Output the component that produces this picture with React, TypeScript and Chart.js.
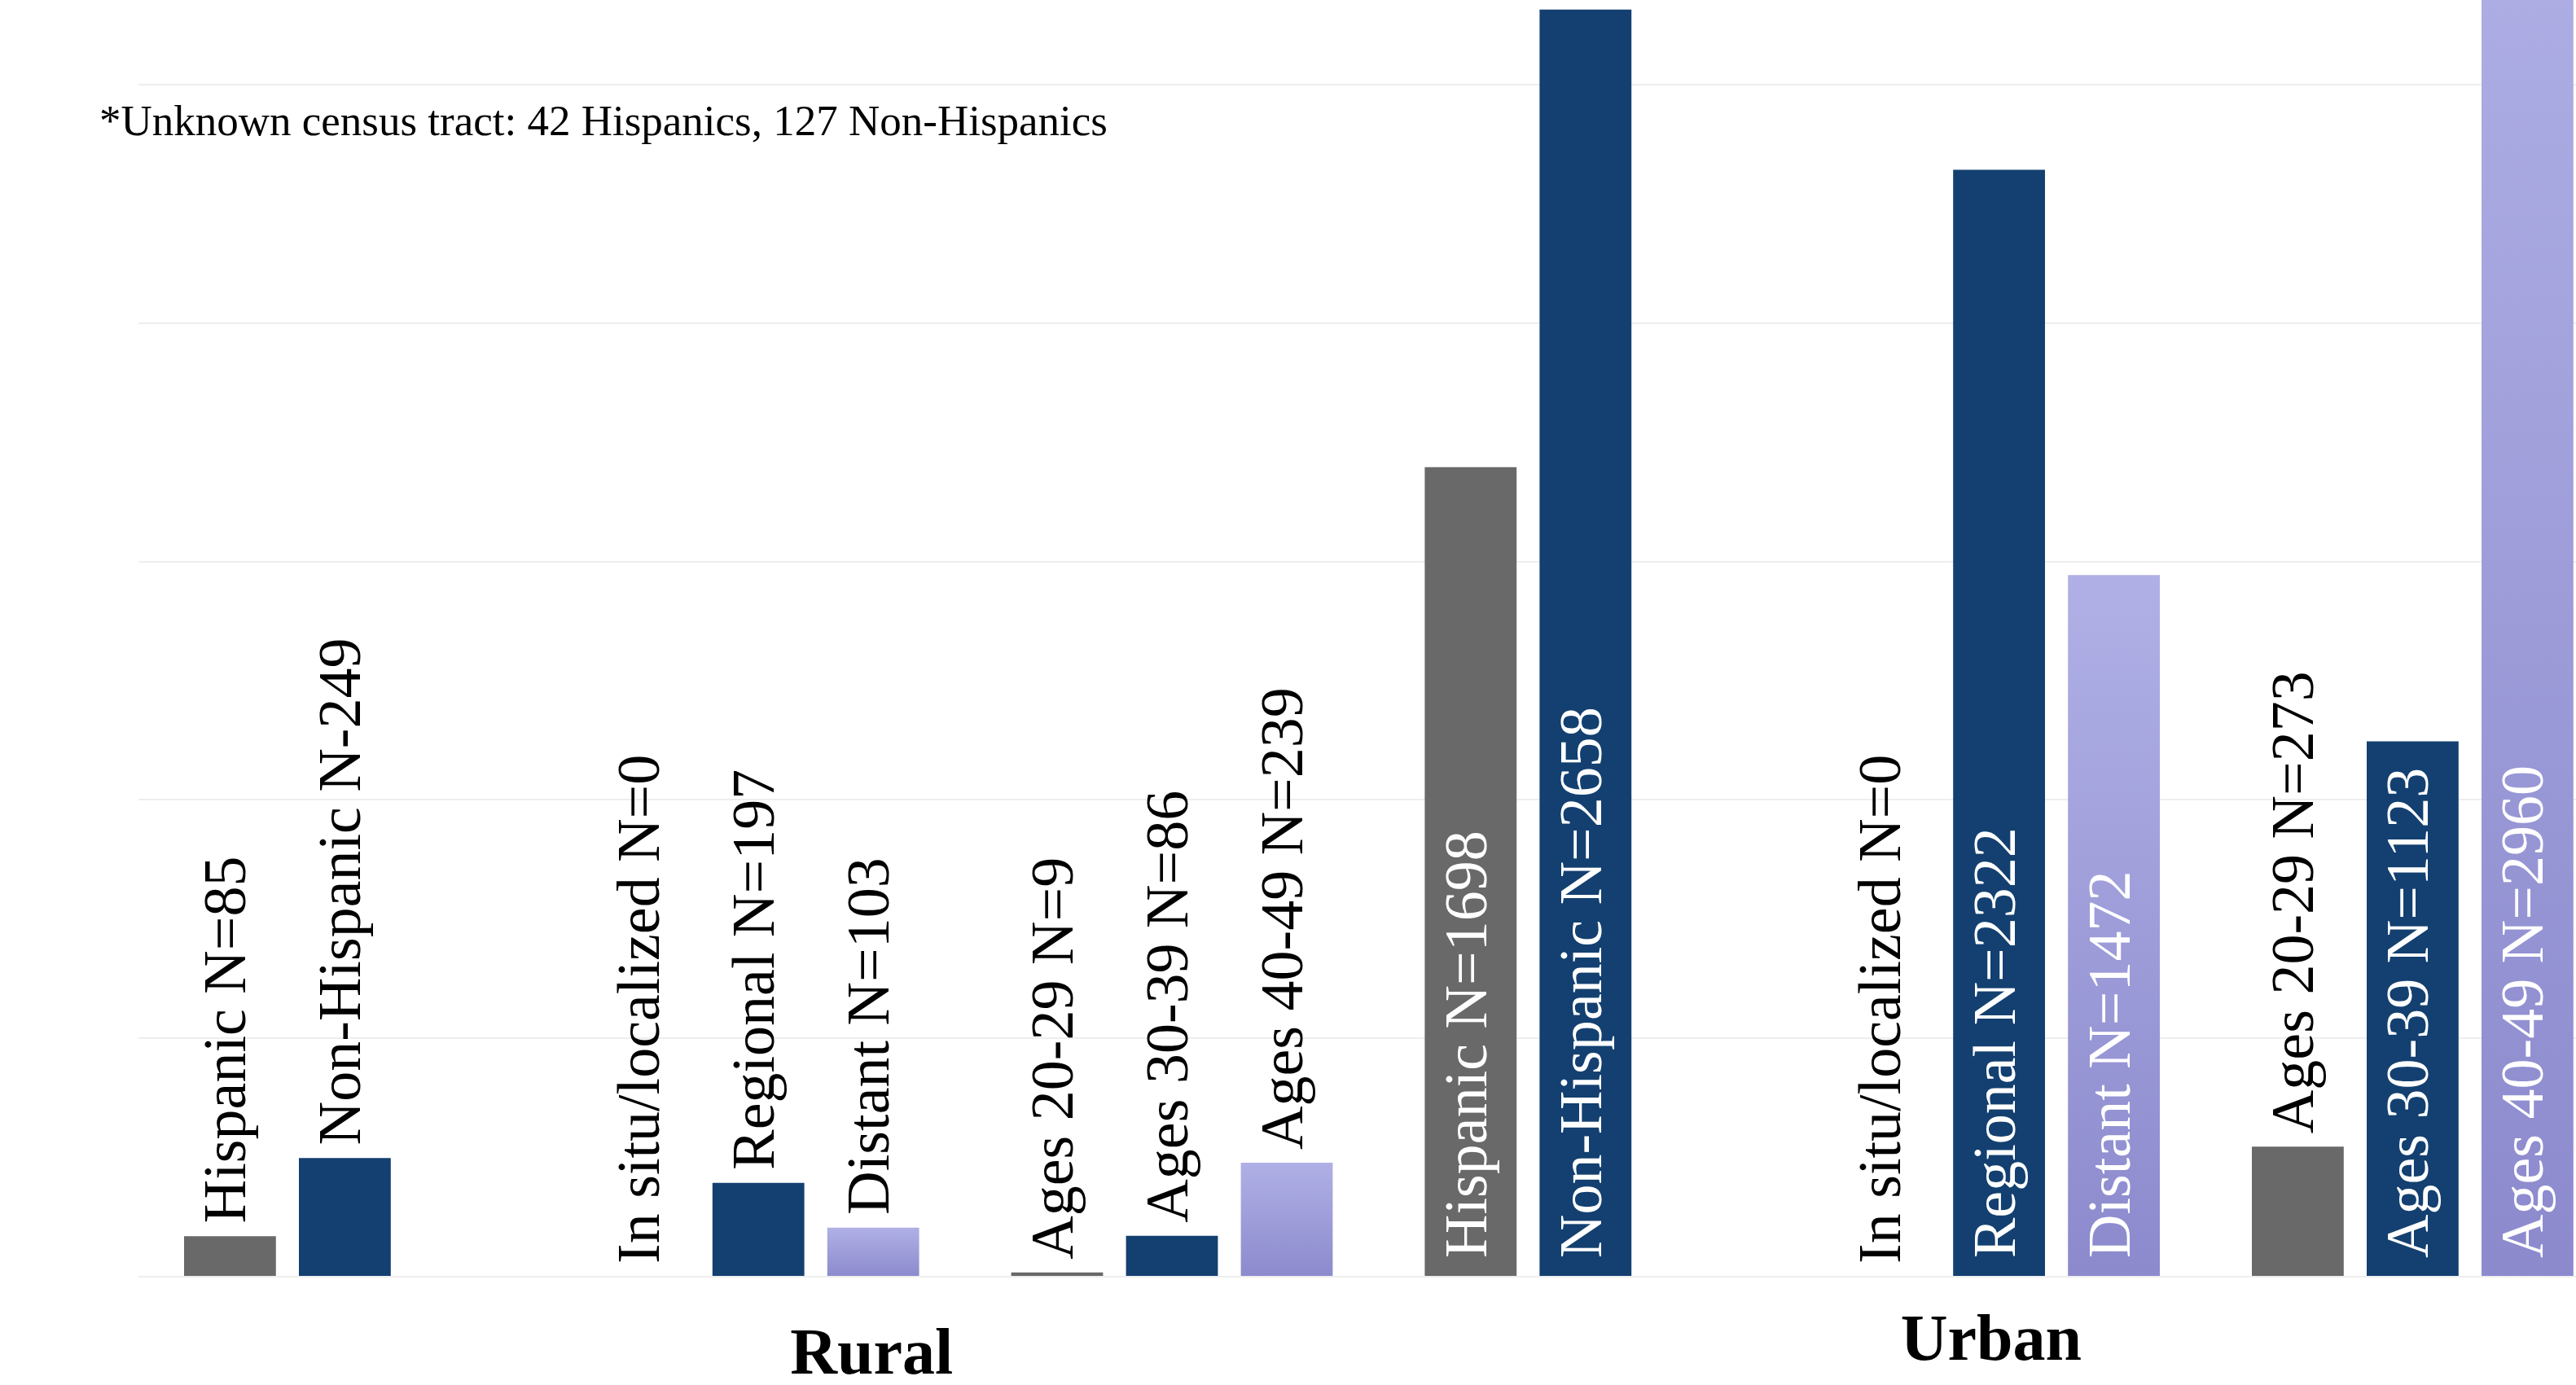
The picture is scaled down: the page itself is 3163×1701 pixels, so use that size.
import React, { useEffect, useRef } from "react";
import { Chart, registerables } from "chart.js";

Chart.register(...registerables);

// ---- data ----
const categories = ["Rural ethnicity", "Rural stage", "Rural age", "Urban ethnicity", "Urban stage", "Urban age"];
const grayValues = [85, 0, 9, 1698, 0, 273];
const blueValues = [249, 197, 86, 2658, 2322, 1123];
const purpleValues: (number | null)[] = [null, 103, 239, null, 1472, 2960];
const grayLabels = ["Hispanic N=85", "In situ/localized N=0", "Ages 20-29 N=9", "Hispanic N=1698", "In situ/localized N=0", "Ages 20-29 N=273"];
const blueLabels = ["Non-Hispanic N-249", "Regional N=197", "Ages 30-39 N=86", "Non-Hispanic N=2658", "Regional N=2322", "Ages 30-39 N=1123"];
const purpleLabels = ["", "Distant N=103", "Ages 40-49 N=239", "", "Distant N=1472", "Ages 40-49 N=2960"];
const seriesLabels = [grayLabels, blueLabels, purpleLabels];
const yTicks = [0, 500, 1000, 1500, 2000, 2500];
const groupNames = ["Rural", "Urban"];
const footnote = "*Unknown census tract: 42 Hispanics, 127 Non-Hispanics";

const FONT = '"Liberation Serif", "Times New Roman", serif';

const purpleGradient = (c: any) => {
  const chart = c.chart;
  if (!chart.chartArea || c.raw == null) return "#9d9cda";
  const ys = chart.scales.y;
  const top = ys.getPixelForValue(c.raw);
  const base = ys.getPixelForValue(0);
  const g = chart.ctx.createLinearGradient(0, top, 0, base);
  g.addColorStop(0, "#B0B0E6");
  g.addColorStop(1, "#8C8ACD");
  return g;
};

const labelPlugin = {
  id: "barLabels",
  afterDatasetsDraw(chart: any) {
    const ctx = chart.ctx;
    ctx.save();
    ctx.font = `74px ${FONT}`;
    chart.data.datasets.forEach((_ds: any, di: number) => {
      const meta = chart.getDatasetMeta(di);
      const texts = seriesLabels[di];
      meta.data.forEach((el: any, i: number) => {
        const t = texts[i];
        if (!t) return;
        const { x, y, base } = el.getProps(["x", "y", "base"], true);
        const h = base - y;
        const w = ctx.measureText(t).width;
        const inside = h >= w + 40;
        const startY = inside ? base - 22 : y - 16;
        ctx.fillStyle = inside ? "#ffffff" : "#000000";
        ctx.save();
        ctx.translate(x + 19, startY);
        ctx.rotate(-Math.PI / 2);
        ctx.textAlign = "left";
        ctx.textBaseline = "alphabetic";
        ctx.fillText(t, 0, 0);
        ctx.restore();
      });
    });
    ctx.restore();
  },
  afterDraw(chart: any) {
    const ctx = chart.ctx;
    const xs = chart.scales.x;
    const bottom = chart.chartArea.bottom;
    ctx.save();
    ctx.fillStyle = "#000000";
    ctx.font = `53px ${FONT}`;
    ctx.textAlign = "left";
    ctx.textBaseline = "alphabetic";
    ctx.fillText(footnote, 122, 166);
    ctx.font = `bold 80px ${FONT}`;
    ctx.textAlign = "center";
    ctx.fillText(groupNames[0], xs.getPixelForValue(1.274), bottom + 119);
    ctx.fillText(groupNames[1], xs.getPixelForValue(3.981), bottom + 102);
    ctx.restore();
  },
};

export default function App() {
  const ref = useRef<HTMLCanvasElement | null>(null);
  useEffect(() => {
    document.body.style.margin = "0";
    const canvas = ref.current!;
    const chart = new Chart(canvas, {
      type: "bar",
      data: {
        labels: categories,
        datasets: [
          { data: grayValues, backgroundColor: "#696969" },
          { data: blueValues, backgroundColor: "#134070" },
          { data: purpleValues, backgroundColor: purpleGradient },
        ],
      },
      options: {
        animation: false,
        responsive: false,
        maintainAspectRatio: false,
        events: [],
        layout: { padding: { left: 169.5, right: 0.7, top: 0, bottom: 133 } },
        datasets: { bar: { barPercentage: 0.8, categoryPercentage: 0.833 } },
        plugins: { legend: { display: false }, tooltip: { enabled: false }, title: { display: false } },
        scales: {
          x: { display: false, offset: true },
          y: {
            display: true,
            min: 0,
            max: 2678,
            ticks: { display: false },
            border: { display: false },
            grid: { display: true, color: "#eeeeee", lineWidth: 2, drawTicks: false, drawOnChartArea: true },
            afterBuildTicks: (s: any) => {
              s.ticks = yTicks.map((v) => ({ value: v }));
            },
          },
        },
      },
      plugins: [labelPlugin],
    });
    return () => chart.destroy();
  }, []);
  return (
    <div style={{ width: 3163, height: 1701, overflow: "hidden", position: "relative", background: "#ffffff" }}>
      <canvas ref={ref} width={3217} height={1701} style={{ position: "absolute", left: 0, top: 0 }} />
    </div>
  );
}
